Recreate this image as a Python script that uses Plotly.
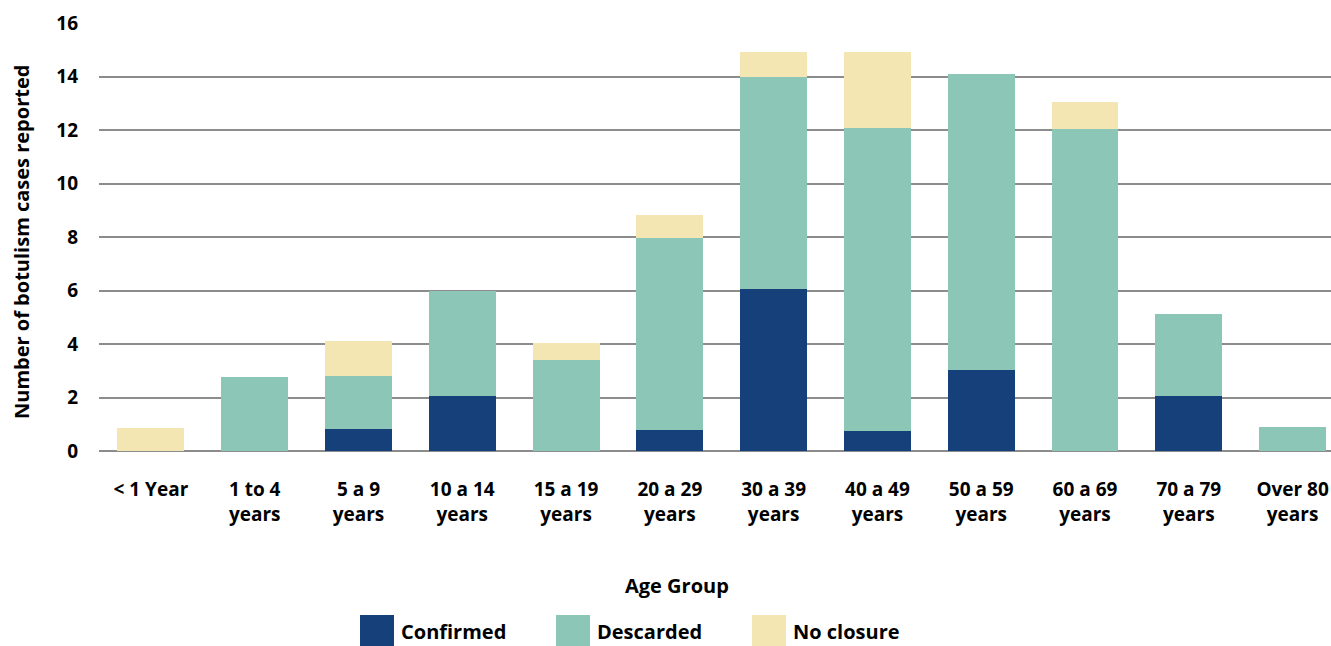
import plotly.graph_objects as go

# Age groups (x categories)
age_groups = [
    "< 1 Year", "1 to 4<br>years", "5 a 9<br>years", "10 a 14<br>years",
    "15 a 19<br>years", "20 a 29<br>years", "30 a 39<br>years", "40 a 49<br>years",
    "50 a 59<br>years", "60 a 69<br>years", "70 a 79<br>years", "Over 80<br>years",
]

# Reported botulism cases per classification
confirmed = [0, 0, 0.82, 2.05, 0, 0.78, 6.06, 0.75, 3.04, 0, 2.05, 0]
descarded = [0, 2.76, 1.98, 3.95, 3.4, 7.18, 7.91, 11.32, 11.04, 12.03, 3.07, 0.9]
no_closure = [0.86, 0, 1.3, 0, 0.63, 0.86, 0.93, 2.83, 0, 1.01, 0, 0]

y_ticks = [0, 2, 4, 6, 8, 10, 12, 14, 16]

series_names = ["Confirmed", "Descarded", "No closure"]
series_colors = ["#15407A", "#8BC6B6", "#F3E6B3"]

FONT = "'Open Sans', Lato, sans-serif"
W, H = 1331, 646
M_L, M_R, M_T, M_B = 99, 0, 23, 195

fig = go.Figure()
for name, vals, col in zip(series_names, [confirmed, descarded, no_closure], series_colors):
    fig.add_trace(go.Bar(
        name=name, x=age_groups, y=vals,
        marker=dict(color=col, line=dict(width=0)),
        showlegend=False,
    ))

# Pixel -> paper helpers for the custom legend and titles
plot_h = H - M_T - M_B
plot_w = W - M_L - M_R

def px_x(px):
    return (px - M_L) / plot_w

def px_y(py):
    return (H - M_B - py) / plot_h

# Custom legend: large square swatches with bold labels
swatch_left = [360, 556, 752]
for left, name, col in zip(swatch_left, series_names, series_colors):
    fig.add_shape(
        type="rect", xref="paper", yref="paper",
        x0=px_x(left), x1=px_x(left + 34), y0=px_y(646), y1=px_y(615),
        fillcolor=col, line=dict(width=0), layer="above",
    )
    fig.add_annotation(
        xref="paper", yref="paper", x=px_x(left + 39), y=px_y(631),
        text=name, showarrow=False, xanchor="left", yanchor="middle",
        font=dict(family=FONT, size=20, color="#000000", weight="bold"),
    )

# Axis titles
fig.add_annotation(
    xref="paper", yref="paper", x=px_x(677), y=px_y(585),
    text="Age Group", showarrow=False, xanchor="center", yanchor="middle",
    font=dict(family=FONT, size=20, color="#000000", weight="bold"),
)
fig.add_annotation(
    xref="paper", yref="paper", x=px_x(21), y=px_y(242),
    text="Number of botulism cases reported", textangle=-90,
    showarrow=False, xanchor="center", yanchor="middle",
    font=dict(family=FONT, size=20, color="#000000", weight="bold"),
)

fig.update_layout(
    width=W, height=H,
    margin=dict(l=M_L, r=M_R, t=M_T, b=M_B),
    barmode="stack", bargap=0.355,
    plot_bgcolor="white", paper_bgcolor="white",
    font=dict(family=FONT, size=18, color="#000000", weight="bold"),
    xaxis=dict(
        range=[-0.5, 11.37], showgrid=False, showline=False, ticks="",
        tickfont=dict(family=FONT, size=19, color="#000000", weight="bold"),
        ticklabelstandoff=25,
    ),
    yaxis=dict(
        range=[0, 16], tickvals=y_ticks, showgrid=True,
        gridcolor="#8c8c8c", gridwidth=1.8,
        zeroline=True, zerolinecolor="#8c8c8c", zerolinewidth=1.8,
        showline=False, ticks="",
        tickfont=dict(family=FONT, size=19, color="#000000", weight="bold"),
        ticklabelstandoff=20,
    ),
)

fig.write_html("out.html")
